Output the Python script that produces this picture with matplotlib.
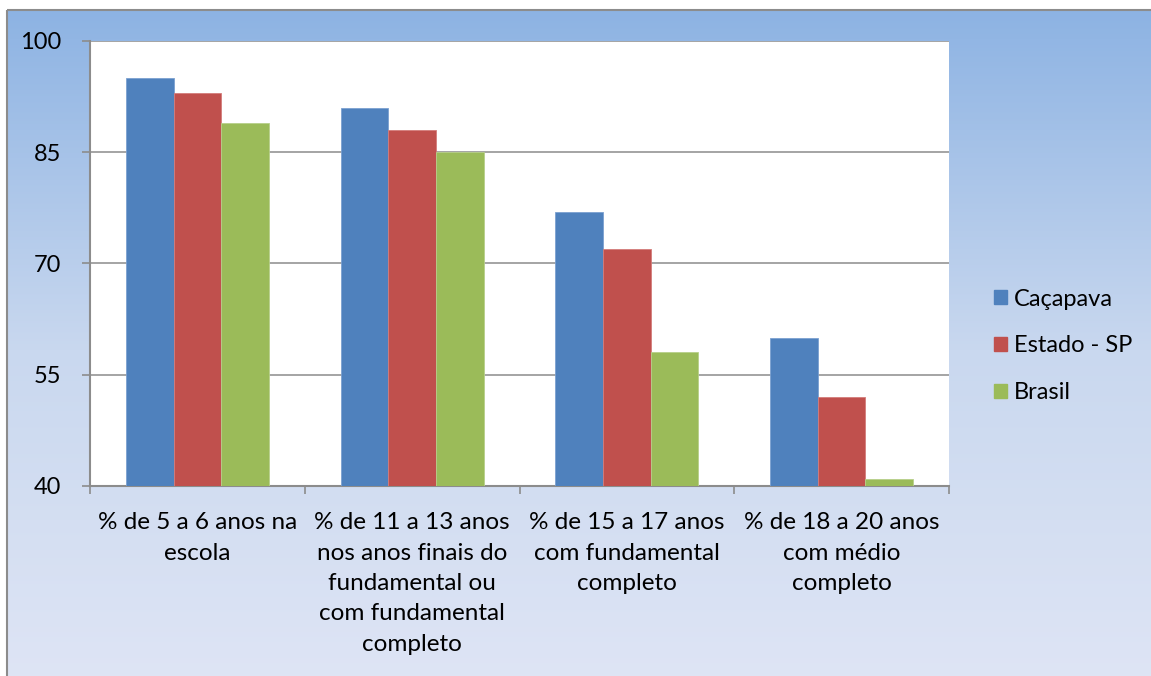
import matplotlib
matplotlib.use("Agg")
import matplotlib.pyplot as plt
import numpy as np
from matplotlib.lines import Line2D
from matplotlib.colors import LinearSegmentedColormap

categories = [
    "% de 5 a 6 anos na\nescola",
    "% de 11 a 13 anos\nnos anos finais do\nfundamental ou\ncom fundamental\ncompleto",
    "% de 15 a 17 anos\ncom fundamental\ncompleto",
    "% de 18 a 20 anos\ncom médio\ncompleto",
]
series_names = ["Caçapava", "Estado - SP", "Brasil"]
cacapava = [95, 91, 77, 60]
estado_sp = [93, 88, 72, 52]
brasil = [89, 85, 58, 41]
y_ticks = [40, 55, 70, 85, 100]

colors = ["#4F81BD", "#C0504D", "#9BBB59"]
edge_colors = ["#7BA0D0", "#D47C7A", "#B7D08A"]

plt.rcParams["font.family"] = ["Lato", "DejaVu Sans"]
FS = 17.5

W, H = 1151, 676
fig = plt.figure(figsize=(W / 100, H / 100), dpi=100, facecolor="white")

# gradient background inside the chart frame (runs past the right/bottom edges)
x0, ytop = 7 / W, 1 - 10 / H
bg = fig.add_axes([x0, -0.02, 1.03 - x0, ytop + 0.02], zorder=-10)
cmap = LinearSegmentedColormap.from_list("bg", ["#8DB3E3", "#C9D8EF", "#DFE5F5"])
grad = np.linspace(0, 1, 256).reshape(-1, 1)
bg.imshow(grad, aspect="auto", cmap=cmap, extent=[0, 1, 0, 1], origin="upper")
bg.set_axis_off()

# chart frame (left and top edges visible)
fig.add_artist(Line2D([x0, x0], [0, ytop], color="#8C8C8C", lw=1.5,
                      solid_capstyle="butt", transform=fig.transFigure))
fig.add_artist(Line2D([x0, 1.01], [ytop, ytop], color="#8C8C8C", lw=1.5,
                      solid_capstyle="butt", transform=fig.transFigure))

ax = fig.add_axes([90 / W, 1 - 486 / H, (949 - 90) / W, (486 - 41) / H])
ax.set_facecolor("white")

x = np.arange(len(categories))
bw = 0.2222
for j, vals in enumerate([cacapava, estado_sp, brasil]):
    ax.bar(x + (j - 1) * bw, np.array(vals) - 40, bw, bottom=40, color=colors[j],
           edgecolor=edge_colors[j], linewidth=0.6, label=series_names[j], zorder=3)

ax.set_xlim(-0.5, 3.5)
ax.set_ylim(40, 100)
ax.set_yticks(y_ticks)
ax.set_yticklabels([str(v) for v in y_ticks], fontsize=17)
ax.grid(axis="y", color="#8C8C8C", lw=1.1, zorder=0)
ax.set_axisbelow(True)

ax.set_xticks(x)
ax.set_xticklabels(categories, fontsize=FS, linespacing=1.55, va="top")
ax.set_xticks(np.arange(-0.5, 4.0, 1.0), minor=True)
ax.tick_params(axis="x", which="major", length=0, pad=19)
ax.tick_params(axis="x", which="minor", length=6, width=1.2, color="#8C8C8C")
ax.tick_params(axis="y", length=6, width=1.2, color="#8C8C8C", pad=15)

for s in ["top", "right"]:
    ax.spines[s].set_visible(False)
for s in ["left", "bottom"]:
    ax.spines[s].set_color("#8C8C8C")
    ax.spines[s].set_linewidth(1.5)

handles = [plt.Rectangle((0, 0), 1, 1, color=c) for c in colors]
fig.legend(handles, series_names, loc="center left", bbox_to_anchor=(973 / W, 1 - 346 / H),
           frameon=False, fontsize=17, handlelength=0.55, handleheight=0.55,
           handletextpad=0.3, labelspacing=1.1)

fig.savefig("out.png", dpi=100, facecolor="white")
